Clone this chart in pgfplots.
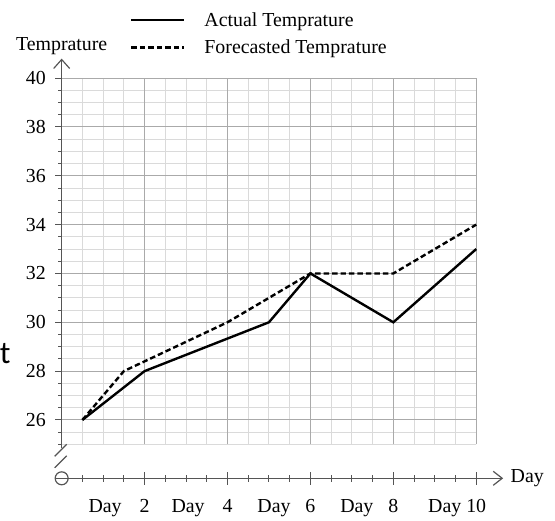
\documentclass[border=0pt]{standalone}
\usepackage{pgfplots}
\pgfplotsset{compat=1.18}
\usetikzlibrary{arrows.meta}
\usepackage{fontspec}
\setmainfont{Liberation Serif}
\newfontfamily\sidefont{Carlito}
\definecolor{gridminor}{RGB}{218,218,218}
\definecolor{gridmajor}{RGB}{170,170,170}
\definecolor{axisgray}{RGB}{85,85,85}

\begin{document}
\begin{tikzpicture}
\begin{axis}[
  x=41.6bp, y=24.5bp,
  xmin=0, xmax=10.65, ymin=23.61, ymax=40.8,
  clip=false,
  axis line style={draw=none},
  tick pos=left,
  tick align=center,
  xtick={2,4,6,8,10},
  xticklabels={{\llap{Day\hspace{18bp}}2},{\llap{Day\hspace{18bp}}4},{\llap{Day\hspace{15bp}}6},{\llap{Day\hspace{15bp}}8},{\llap{Day\hspace{5bp}}10}},
  minor xtick={0.5,1,...,9.5},
  ytick={26,28,...,40},
  yticklabels={26,28,30,32,34,36,38,40},
  minor ytick={25,25.5,...,40},
  major tick length=13bp, minor tick length=7bp,
  tick style={axisgray, line width=1bp},
  font=\fontsize{20}{22}\selectfont,
  xticklabel style={yshift=-11bp},
  yticklabel style={xshift=-6bp},
  xlabel={Day}, ylabel={Temprature},
  every axis x label/.style={at={(axis description cs:1,0)}, anchor=west, xshift=4bp},
  every axis y label/.style={at={(axis description cs:0,1.030)}, anchor=center},
  legend style={at={(axis description cs:0.155,1.115)}, anchor=north west,
    draw=none, fill=none, inner sep=0pt, row sep=8bp,
    font=\fontsize{20}{22}\selectfont},
  legend cell align=left,
  legend image code/.code={\draw[#1] (0bp,0bp) -- (53bp,0bp); \path (70bp,0bp);},
]
% grid
\pgfplotsinvokeforeach{0.5,1,...,10}{\draw[gridminor, line width=1bp] (axis cs:#1,25) -- (axis cs:#1,40);}
\pgfplotsinvokeforeach{25,25.5,...,40}{\draw[gridminor, line width=1bp] (axis cs:0,#1) -- (axis cs:10,#1);}
\pgfplotsinvokeforeach{2,4,6,8,10}{\draw[gridmajor, line width=1bp] (axis cs:#1,25) -- (axis cs:#1,40);}
\pgfplotsinvokeforeach{26,28,30,32,34,36,38,40}{\draw[gridmajor, line width=1bp] (axis cs:0,#1) -- (axis cs:10,#1);}
% axes
\draw[axisgray, line width=1.2bp, -{Straight Barb[length=9bp,width=16bp]}] (axis cs:0,24.85) -- (axis cs:0,40.8);
\draw[axisgray, line width=1.2bp] (axis cs:-0.17,24.51) -- (axis cs:0.12,25.0);
\draw[axisgray, line width=1.2bp] (axis cs:-0.17,24.04) -- (axis cs:0.12,24.53);
\draw[axisgray, line width=1.2bp] (axis cs:0,23.61) circle[radius=6.5bp];
\draw[axisgray, line width=1.2bp, -{Straight Barb[length=9bp,width=14bp]}] (axis cs:-0.155,23.61) -- (axis cs:10.65,23.61);
\path (axis cs:-1.442,22.06) rectangle (axis cs:11.9,43.2);
\node[anchor=base east, inner sep=0pt, font=\sidefont\fontsize{32}{32}\selectfont] at (axis cs:-1.226,28.30) {t};

\addplot[black, line width=2.4bp] coordinates {(0.5,26) (2,28) (5,30) (6,32) (8,30) (10,33)};
\addlegendentry{Actual Temprature}
\addplot[black, line width=2.4bp, dash pattern=on 5.5bp off 3bp] coordinates {(0.5,26) (1.5,28) (4,30) (6,32) (8,32) (10,34)};
\addlegendentry{Forecasted Temprature}
\end{axis}
\end{tikzpicture}
\end{document}
